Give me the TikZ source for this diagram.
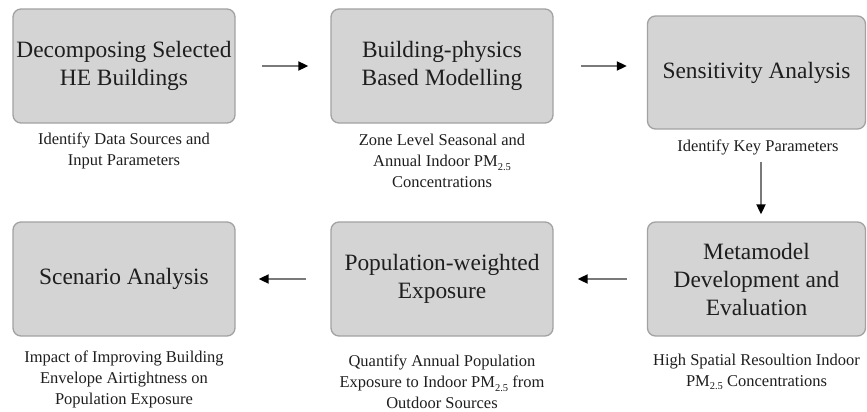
\documentclass[tikz,border=0pt]{standalone}
\usepackage{fontspec}
\setmainfont{Liberation Serif}
\usetikzlibrary{arrows.meta}
\definecolor{boxfill}{HTML}{D4D4D4}
\definecolor{boxline}{HTML}{A2A2A2}
\definecolor{shaft}{HTML}{7A7A7A}
\definecolor{ink}{HTML}{1E1E1E}
\tikzset{
  stage/.style={draw=boxline, line width=1.3pt, fill=boxfill, rounded corners=8pt,
    minimum width=222pt, minimum height=114pt, inner sep=0pt, align=center,
    text=ink, font=\fontsize{23.4}{28}\selectfont},
  note/.style={align=center, text=ink, inner sep=0pt, font=\fontsize{16.5}{21}\selectfont},
  flow/.style={draw=shaft, line width=1.8pt, -{Triangle[length=10pt,width=9pt,color=black]}}
}
% PM2.5 with a small, lowered subscript
\newcommand{\pmtf}{PM\raisebox{-0.45ex}{\fontsize{10.5}{10.5}\selectfont 2.5}}
\begin{document}
\begin{tikzpicture}[x=1pt,y=-1pt]
  \useasboundingbox (0,0) rectangle (867,412);
  % upper row
  \node[stage] (b1) at (124,66) {Decomposing Selected\\HE Buildings};
  \node[stage] (b2) at (442,66) {Building-physics\\Based Modelling};
  \node[stage, minimum width=218pt, minimum height=113pt] (b3) at (756.5,72.5) {Sensitivity Analysis};
  % lower row
  \node[stage] (b4) at (124,279) {Scenario Analysis};
  \node[stage] (b5) at (442,279) {Population-weighted\\Exposure};
  \node[stage, minimum width=218pt] (b6) at (756.5,279) {Metamodel\\Development and\\Evaluation};
  % captions
  \node[note] (c1) at (124,151) {Identify Data Sources and\\Input Parameters};
  \node[note] (c2) at (442,161) {Zone Level Seasonal and\\Annual Indoor \pmtf\\Concentrations};
  \node[note] (c3) at (758,147) {Identify Key Parameters};
  \node[note] (c4) at (124,379) {Impact of Improving Building\\Envelope Airtightness on\\Population Exposure};
  \node[note] (c5) at (442,382) {Quantify Annual Population\\Exposure to Indoor \pmtf{} from\\Outdoor Sources};
  \node[note] (c6) at (756.5,372) {High Spatial Resoultion Indoor\\\pmtf{} Concentrations};
  % connectors
  \draw[flow, shorten <=26pt, shorten >=22pt] (b1.east) -- (b2.west);
  \draw[flow, shorten <=27pt, shorten >=20pt] (b2.east) -- (b3.west |- b2.east);
  \draw[flow, shorten <=7pt, shorten >=7pt] (c3.south -| 761,0) -- (b6.north -| 761,0);
  \draw[flow, shorten <=20pt, shorten >=24pt] (b6.west) -- (b5.east);
  \draw[flow, shorten <=24pt, shorten >=23pt] (b5.west) -- (b4.east);
\end{tikzpicture}
\end{document}
